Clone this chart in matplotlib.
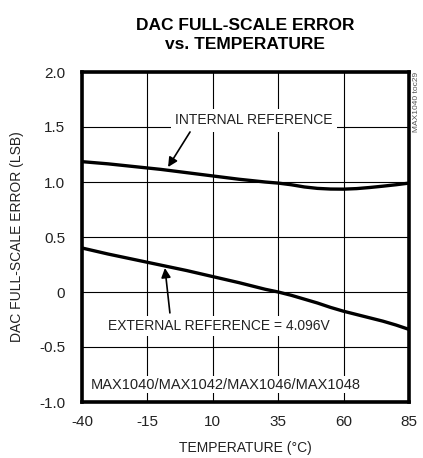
import numpy as np
import matplotlib
matplotlib.use('Agg')
import matplotlib.pyplot as plt

plt.rcParams['font.family'] = ['Liberation Sans', 'DejaVu Sans']
plt.rcParams['axes.unicode_minus'] = False

# temperature points
temp = [-40, -30, -20, -10, 0, 10, 20, 30, 35, 40, 45, 50, 55, 60, 65, 70, 75, 80, 85]
# internal reference curve (LSB)
internal_ref = [1.185, 1.165, 1.14, 1.115, 1.085, 1.055, 1.025, 1.0, 0.99, 0.975, 0.955,
                0.942, 0.936, 0.935, 0.94, 0.95, 0.962, 0.975, 0.99]
# external reference curve (LSB)
external_ref = [0.40, 0.345, 0.295, 0.245, 0.195, 0.14, 0.085, 0.025, 0.0, -0.03, -0.065,
                -0.10, -0.14, -0.175, -0.205, -0.235, -0.265, -0.30, -0.34]

x_ticks = [-40, -15, 10, 35, 60, 85]
y_ticks = [-1.0, -0.5, 0, 0.5, 1.0, 1.5, 2.0]
y_tick_labels = ['-1.0', '-0.5', '0', '0.5', '1.0', '1.5', '2.0']

fig = plt.figure(figsize=(4.23, 4.58), dpi=100)
ax = fig.add_axes([82/423, 1 - 402/458, 327/423, 330/458])

ax.plot(temp, internal_ref, color='black', lw=2.4, solid_capstyle='butt')
ax.plot(temp, external_ref, color='black', lw=2.4, solid_capstyle='butt')

ax.set_xlim(-40, 85)
ax.set_ylim(-1.0, 2.0)
ax.set_xticks(x_ticks)
ax.set_yticks(y_ticks)
ax.set_yticklabels(y_tick_labels)
ax.tick_params(length=0, labelsize=11, colors='#222222')
ax.tick_params(axis='y', pad=12)
ax.tick_params(axis='x', pad=9)
ax.grid(True, color='black', lw=0.8)
for sp in ax.spines.values():
    sp.set_linewidth(2.6)

ax.set_xlabel('TEMPERATURE (°C)', fontsize=10, labelpad=9, color='#222222')
ax.set_ylabel('DAC FULL-SCALE ERROR (LSB)', fontsize=10, labelpad=11, color='#222222')

fig.text(245/423, 1 - 35/458, 'DAC FULL-SCALE ERROR\nvs. TEMPERATURE', ha='center', va='center',
         fontsize=12.5, fontweight='bold', linespacing=1.35)

# labels
ax.text(25.7, 1.56, 'INTERNAL REFERENCE', ha='center', va='center', fontsize=10,
        color='#222222', bbox=dict(facecolor='white', edgecolor='none', pad=3))
ax.text(12.4, -0.31, 'EXTERNAL REFERENCE = 4.096V', ha='center', va='center', fontsize=10,
        color='#222222', bbox=dict(facecolor='white', edgecolor='none', pad=2))
ax.text(-36.5, -0.845, 'MAX1040/MAX1042/MAX1046/MAX1048', ha='left', va='center',
        fontsize=10.5, color='#222222',
        bbox=dict(facecolor='white', edgecolor='none', pad=1))

# arrows
arrow_style = dict(arrowstyle='-|>', color='black', lw=1.2, mutation_scale=14,
                   shrinkA=0, shrinkB=0)
ax.annotate('', xy=(-7.1, 1.136), xytext=(1.3, 1.455), arrowprops=arrow_style)
ax.annotate('', xy=(-8.3, 0.218), xytext=(-6.4, -0.19), arrowprops=arrow_style)

fig.text(416/423, 1 - 72/458, 'MAX1040 toc29', rotation=90, ha='center', va='top',
         fontsize=6, color='#555555')

fig.savefig('out.png', dpi=100)
